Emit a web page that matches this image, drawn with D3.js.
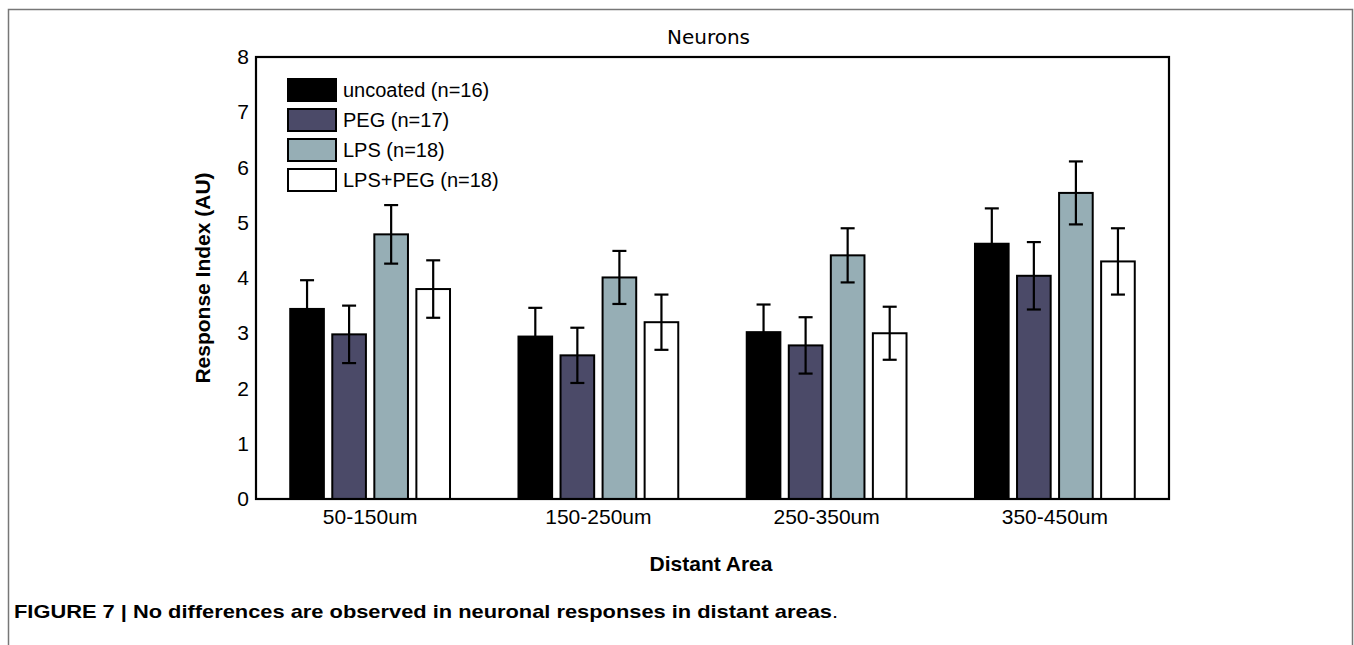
<!DOCTYPE html>
<html>
<head>
<meta charset="utf-8">
<script src="https://cdn.jsdelivr.net/npm/d3@7"></script>
<style>
  body { margin: 0; background: #fff; }
  svg { display: block; }
</style>
</head>
<body>
<div class="chart_container"></div>
<script>
// data
var categories = ["50-150um", "150-250um", "250-350um", "350-450um"];
var seriesNames = ["uncoated (n=16)", "PEG (n=17)", "LPS (n=18)", "LPS+PEG (n=18)"];
var seriesColors = ["#000000", "#4b4a68", "#96aeb5", "#ffffff"];
var uncoated = [3.44, 2.94, 3.02, 4.62];
var peg = [2.98, 2.60, 2.78, 4.04];
var lps = [4.79, 4.01, 4.41, 5.54];
var lpsPeg = [3.80, 3.20, 3.00, 4.30];
var uncoatedErr = [0.52, 0.52, 0.50, 0.64];
var pegErr = [0.52, 0.50, 0.51, 0.61];
var lpsErr = [0.53, 0.48, 0.49, 0.57];
var lpsPegErr = [0.52, 0.50, 0.48, 0.60];
var yTicks = [0, 1, 2, 3, 4, 5, 6, 7, 8];

var values = [uncoated, peg, lps, lpsPeg];
var errors = [uncoatedErr, pegErr, lpsErr, lpsPegErr];

var W = 1354, H = 645;
var plotLeft = 256, plotRight = 1169, plotTop = 57, plotBottom = 499;

var svg = d3.select(".chart_container").append("svg")
    .attr("width", W)
    .attr("height", H);

// outer figure frame
svg.append("rect")
    .attr("x", 8.5).attr("y", 9.5)
    .attr("width", 1344).attr("height", 660)
    .attr("fill", "none")
    .attr("stroke", "#777")
    .attr("stroke-width", 1.5);

var x0 = d3.scaleBand()
    .domain(categories)
    .range([plotLeft, plotRight])
    .paddingInner(0.3)
    .paddingOuter(0.15);

var x1 = d3.scaleBand()
    .domain(seriesNames)
    .range([0, x0.bandwidth()])
    .paddingInner(0.2)
    .paddingOuter(0);

var y = d3.scaleLinear()
    .domain([0, 8])
    .range([plotBottom, plotTop]);

// flatten into bar records
var bars = [];
for (var s = 0; s < seriesNames.length; s++) {
    for (var c = 0; c < categories.length; c++) {
        bars.push({
            cat: categories[c],
            series: seriesNames[s],
            idx: s,
            value: values[s][c],
            err: errors[s][c]
        });
    }
}

var g = svg.append("g");

g.selectAll("rect.bar")
    .data(bars)
    .enter().append("rect")
    .attr("class", "bar")
    .attr("x", d => x0(d.cat) + x1(d.series))
    .attr("y", d => y(d.value))
    .attr("width", x1.bandwidth())
    .attr("height", d => y(0) - y(d.value))
    .attr("fill", d => seriesColors[d.idx])
    .attr("stroke", "#000")
    .attr("stroke-width", 2);

// error bars
var capW = 7;
var cx = d => x0(d.cat) + x1(d.series) + x1.bandwidth() / 2;
var eb = g.selectAll("g.err")
    .data(bars)
    .enter().append("g")
    .attr("class", "err")
    .attr("stroke", "#000")
    .attr("stroke-width", 2.2);

eb.append("line")
    .attr("x1", cx)
    .attr("x2", cx)
    .attr("y1", d => y(d.value + d.err))
    .attr("y2", d => y(d.value - d.err));
eb.append("line")
    .attr("x1", d => cx(d) - capW)
    .attr("x2", d => cx(d) + capW)
    .attr("y1", d => y(d.value + d.err))
    .attr("y2", d => y(d.value + d.err));
eb.append("line")
    .attr("x1", d => cx(d) - capW)
    .attr("x2", d => cx(d) + capW)
    .attr("y1", d => y(d.value - d.err))
    .attr("y2", d => y(d.value - d.err));

// axes box
svg.append("rect")
    .attr("x", plotLeft).attr("y", plotTop)
    .attr("width", plotRight - plotLeft).attr("height", plotBottom - plotTop)
    .attr("fill", "none")
    .attr("stroke", "#000")
    .attr("stroke-width", 2.2);

// y axis
var yAxis = svg.append("g")
    .attr("transform", "translate(" + plotLeft + ",0)")
    .call(d3.axisLeft(y).tickValues(yTicks).tickSize(0).tickPadding(7));
yAxis.select(".domain").remove();
yAxis.selectAll("text")
    .attr("font-family", "Liberation Sans, Arial, sans-serif")
    .attr("font-size", 21)
    .attr("fill", "#000");

// x axis
var xAxis = svg.append("g")
    .attr("transform", "translate(0," + plotBottom + ")")
    .call(d3.axisBottom(x0).tickSize(0).tickPadding(10));
xAxis.select(".domain").remove();
xAxis.selectAll("text")
    .attr("font-family", "Liberation Sans, Arial, sans-serif")
    .attr("font-size", 21)
    .attr("fill", "#000");

// title
svg.append("text")
    .attr("x", (plotLeft + plotRight) / 2 - 4)
    .attr("y", 44)
    .attr("text-anchor", "middle")
    .attr("font-family", "DejaVu Sans, Verdana, sans-serif")
    .attr("font-size", 20)
    .text("Neurons");

// axis titles
svg.append("text")
    .attr("transform", "translate(210," + ((plotTop + plotBottom) / 2) + ") rotate(-90)")
    .attr("text-anchor", "middle")
    .attr("font-family", "Liberation Sans, Arial, sans-serif")
    .attr("font-weight", "bold")
    .attr("font-size", 21)
    .text("Response Index (AU)");

svg.append("text")
    .attr("x", 711)
    .attr("y", 571)
    .attr("text-anchor", "middle")
    .attr("font-family", "Liberation Sans, Arial, sans-serif")
    .attr("font-weight", "bold")
    .attr("font-size", 21)
    .text("Distant Area");

// legend
var legend = svg.append("g")
    .attr("transform", "translate(288,79)");
var row = legend.selectAll("g")
    .data(seriesNames)
    .enter().append("g")
    .attr("transform", (d, i) => "translate(0," + (i * 30) + ")");
row.append("rect")
    .attr("width", 48).attr("height", 22)
    .attr("fill", (d, i) => seriesColors[i])
    .attr("stroke", "#000")
    .attr("stroke-width", 2);
row.append("text")
    .attr("x", 55)
    .attr("y", 18)
    .attr("font-family", "Liberation Sans, Arial, sans-serif")
    .attr("font-size", 20)
    .text(d => d);

// caption
var cap = svg.append("text")
    .attr("x", 14)
    .attr("y", 618)
    .attr("font-family", "Liberation Sans Narrow, Arial Narrow, Liberation Sans, Arial, sans-serif")
    .attr("font-size", 19)
    .attr("textLength", 824)
    .attr("lengthAdjust", "spacingAndGlyphs");
cap.append("tspan")
    .attr("font-weight", "bold")
    .text("FIGURE 7 | No differences are observed in neuronal responses in distant areas");
cap.append("tspan").text(".");
</script>
</body>
</html>
